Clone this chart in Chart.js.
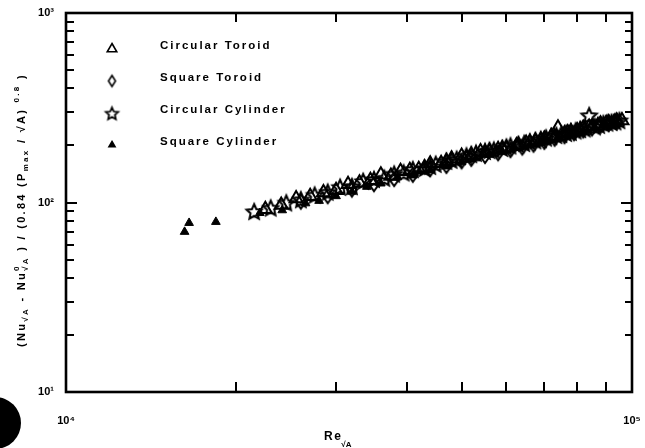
<!DOCTYPE html>
<html><head><meta charset="utf-8">
<script src="https://cdn.jsdelivr.net/npm/chart.js@4.4.1/dist/chart.umd.min.js"></script>
<style>html,body{margin:0;padding:0;background:#fff}</style>
</head><body>
<canvas id="c" width="645" height="448"></canvas>
<script>
// ---------- data ----------
const seriesNames = ['Circular Toroid', 'Square Toroid', 'Circular Cylinder', 'Square Cylinder'];

const circToroidRe = [22500,24000,25500,27000,28500,30000,31500,33000,34500,36000,37500,39000,40500,42000,43000,44000,46000,47000,48000,50000,51000,52000,54000,55000,56000,58000,59000,60000,62500,63000,65000,66000,67500,69000,70000,72000,73000,74000,76000,77000,78000,80000,81000,82000,84000,85000,87000,88000,90000,91000,93000,94000,96000];
const circToroidNu = [92,97,105,108,113,116,125,127,131,140,138,146,148,150,153,160,161,165,170,176,172,178,186,183,187,191,193,194,200,202,206,208,212,214,217,224,222,248,231,234,238,240,242,247,250,252,255,260,262,264,266,270,271];

const sqToroidRe = [26000,29000,32000,35000,38000,41000,44000,47000,50000,52000,55000,58000,61000,64000,67000,70000,73000,76000,79000,82000,85000,88000,91000,94000];
const sqToroidNu = [101,108,117,125,133,140,150,156,165,170,176,182,189,195,202,209,217,224,232,240,246,254,260,265];

const circCylRe = [21500,23000,24500,26000,27500,29000,30500,32000,33500,35000,36500,38000,39500,41000,43000,44000,45000,47000,48000,49000,51000,52000,53000,55000,56000,57000,59000,60000,61000,63000,64500,66000,67500,69000,70500,72000,73500,75000,76500,78000,79500,81000,82500,84000,86000,87500,89000,90500,92000,93500,95000];
const circCylNu = [90,94,100,104,110,114,121,122,130,133,135,142,144,150,152,156,160,166,168,170,177,180,183,187,189,190,194,197,200,203,206,210,213,216,220,224,227,230,233,236,240,244,246,289,252,257,262,264,266,268,272];

const sqCylRe = [16200,16500,18400,22000,24100,26500,28000,30000,32000,34000,36000,38500,41000,44000,47000,50000,53000,56000,59000,62000,66000,70000,74000,78000,82000,86000,90000,93000];
const sqCylNu = [70,78,79,88,91,99,102,108,114,121,126,136,139,148,155,163,171,179,186,194,203,212,222,231,239,247,257,264];

const xTickValues = [10000, 100000];
const xTickLabels = ['10\u2074', '10\u2075'];
const yTickValues = [10, 100, 1000];
const yTickLabels = ['10\u00B9', '10\u00B2', '10\u00B3'];
const xMinor = [20000,30000,40000,50000,60000,70000,80000,90000];
const yMinor = [20,30,40,50,60,70,80,90,200,300,400,500,600,700,800,900];
const yMajorInner = [100];

// ---------- marker images ----------
function makeStar(r, lw) {
  const s = Math.ceil(2 * r + lw * 2 + 2);
  const c = document.createElement('canvas'); c.width = s; c.height = s;
  const g = c.getContext('2d'); g.strokeStyle = '#000'; g.lineWidth = lw; g.lineJoin = 'miter';
  g.beginPath();
  for (let k = 0; k < 10; k++) {
    const rr = (k % 2 === 0) ? r : r * 0.47;
    const a = -Math.PI / 2 + k * Math.PI / 5;
    const px = s / 2 + rr * Math.cos(a), py = s / 2 + 1 + rr * Math.sin(a);
    k === 0 ? g.moveTo(px, py) : g.lineTo(px, py);
  }
  g.closePath(); g.stroke();
  return c;
}
function makeDiamond(w, h, lw) {
  const W = Math.ceil(w + lw * 2 + 2), H = Math.ceil(h + lw * 2 + 2);
  const c = document.createElement('canvas'); c.width = W; c.height = H;
  const g = c.getContext('2d'); g.strokeStyle = '#000'; g.lineWidth = lw;
  g.beginPath();
  g.moveTo(W / 2, H / 2 - h / 2); g.lineTo(W / 2 + w / 2, H / 2);
  g.lineTo(W / 2, H / 2 + h / 2); g.lineTo(W / 2 - w / 2, H / 2); g.closePath(); g.stroke();
  return c;
}
const starPlot = makeStar(8, 2), starLegend = makeStar(6.5, 1.8);
const diaPlot = makeDiamond(10, 14, 2), diaLegend = makeDiamond(7, 11, 1.6);

const toXY = (xs, ys) => xs.map((x, i) => ({ x: x, y: ys[i] }));

const datasets = [
  { label: seriesNames[0], data: toXY(circToroidRe, circToroidNu), pointStyle: 'triangle', pointRadius: 7.5,
    borderColor: '#000', backgroundColor: 'rgba(0,0,0,0)', pointBorderWidth: 2, legendStyle: 'triangle', legendR: 5.5 },
  { label: seriesNames[1], data: toXY(sqToroidRe, sqToroidNu), pointStyle: diaPlot, pointRadius: 7,
    borderColor: '#000', backgroundColor: 'rgba(0,0,0,0)', pointBorderWidth: 2, legendStyle: diaLegend, legendR: 6 },
  { label: seriesNames[2], data: toXY(circCylRe, circCylNu), pointStyle: starPlot, pointRadius: 8,
    borderColor: '#000', backgroundColor: 'rgba(0,0,0,0)', pointBorderWidth: 2, legendStyle: starLegend, legendR: 6 },
  { label: seriesNames[3], data: toXY(sqCylRe, sqCylNu), pointStyle: 'triangle', pointRadius: 5,
    borderColor: '#000', backgroundColor: '#000', pointBorderWidth: 1, legendStyle: 'triangle', legendR: 3.5, legendFill: true }
];
datasets.forEach(d => { d.showLine = false; });

const FONT = '"Liberation Sans", Arial, sans-serif';

// ---------- plugin: frame, inward ticks, titles, legend ----------
const decor = {
  id: 'decor',
  afterDraw(chart) {
    const ctx = chart.ctx, a = chart.chartArea, xs = chart.scales.x, ys = chart.scales.y;
    ctx.save();
    ctx.strokeStyle = '#000';
    // inward ticks
    ctx.lineWidth = 2;
    ctx.beginPath();
    xMinor.forEach(v => {
      const px = Math.round(xs.getPixelForValue(v));
      ctx.moveTo(px, a.bottom); ctx.lineTo(px, a.bottom - 10);
      ctx.moveTo(px, a.top); ctx.lineTo(px, a.top + 9);
    });
    yMinor.forEach(v => {
      const py = Math.round(ys.getPixelForValue(v));
      ctx.moveTo(a.left, py); ctx.lineTo(a.left + 8, py);
      ctx.moveTo(a.right, py); ctx.lineTo(a.right - 7, py);
    });
    yMajorInner.forEach(v => {
      const py = Math.round(ys.getPixelForValue(v));
      ctx.moveTo(a.left, py); ctx.lineTo(a.left + 11, py);
      ctx.moveTo(a.right, py); ctx.lineTo(a.right - 11, py);
    });
    ctx.stroke();
    // frame
    ctx.lineWidth = 2.6;
    ctx.strokeRect(a.left, a.top, a.right - a.left, a.bottom - a.top);

    // legend
    ctx.fillStyle = '#000';
    ctx.font = 'bold 11.5px ' + FONT;
    ctx.letterSpacing = '2px';
    ctx.textBaseline = 'middle';
    ctx.textAlign = 'left';
    const rowsY = [46, 78, 110, 142];
    chart.data.datasets.forEach((d, i) => {
      ctx.strokeStyle = '#000';
      ctx.fillStyle = d.legendFill ? '#000' : 'rgba(0,0,0,0)';
      ctx.lineWidth = 1.6;
      Chart.helpers.drawPoint(ctx, { pointStyle: d.legendStyle, radius: d.legendR, borderWidth: 1.6, rotation: 0 }, 112, rowsY[i] + 3);
      ctx.fillStyle = '#000';
      ctx.fillText(d.label, 160, rowsY[i]);
    });

    // x-axis title: Re with subscript sqrt(A)
    ctx.textBaseline = 'alphabetic';
    ctx.letterSpacing = '1.5px';
    ctx.font = 'bold 12px ' + FONT;
    ctx.fillText('Re', 324, 440);
    const reW = ctx.measureText('Re').width;
    ctx.font = 'bold 8px ' + FONT;
    ctx.letterSpacing = '0px';
    ctx.fillText('\u221AA', 323 + reW, 447);

    // y-axis title, rotated rich text
    const segs = [
      { t: '(Nu', k: 'n' }, { t: '\u221AA', k: 'sub' }, { t: ' - Nu', k: 'n' },
      { t: '0', k: 'sup' }, { t: '\u221AA', k: 'sub', stack: true },
      { t: ' ) / (0.84 (P', k: 'n' }, { t: 'max', k: 'sub' }, { t: ' / \u221AA) ', k: 'n' },
      { t: '0.8', k: 'sup' }, { t: ' )', k: 'n' }
    ];
    const fontFor = k => k === 'n' ? 'bold 11px ' + FONT : 'bold 8px ' + FONT;
    const offFor = k => k === 'sub' ? 3 : (k === 'sup' ? -6 : 0);
    ctx.letterSpacing = '2.3px';
    let total = 0, lastStart = 0, lastW = 0;
    const pos = [];
    segs.forEach(s => {
      ctx.font = fontFor(s.k);
      const w = ctx.measureText(s.t).width;
      if (s.stack) {
        pos.push(lastStart);
        const mw = Math.max(lastW, w);
        total = lastStart + mw; lastW = mw;
      } else {
        pos.push(total); lastStart = total; lastW = w; total += w;
      }
    });
    ctx.translate(25, 210);
    ctx.rotate(-Math.PI / 2);
    segs.forEach((s, i) => {
      ctx.font = fontFor(s.k);
      ctx.fillText(s.t, pos[i] - total / 2, offFor(s.k));
    });
    ctx.restore();

    // scanning hole-punch blob at lower left
    ctx.save();
    ctx.fillStyle = '#000';
    ctx.beginPath();
    ctx.ellipse(-5, 423, 26, 26, 0, 0, Math.PI * 2);
    ctx.fill();
    ctx.restore();
  }
};

new Chart(document.getElementById('c'), {
  type: 'scatter',
  data: { datasets: datasets },
  options: {
    responsive: false,
    animation: false,
    devicePixelRatio: 1,
    layout: { padding: { left: 0, top: 13, right: 13, bottom: 0 } },
    plugins: { legend: { display: false }, tooltip: { enabled: false } },
    elements: { point: { hoverRadius: 6 } },
    scales: {
      x: {
        type: 'logarithmic', min: 10000, max: 100000,
        grid: { display: false, drawTicks: false },
        border: { display: false },
        afterBuildTicks: s => { s.ticks = xTickValues.map(v => ({ value: v, major: true })); },
        afterFit: s => { s.height = 56; s.paddingLeft = 0; s.paddingRight = 0; },
        ticks: {
          autoSkip: false, maxRotation: 0, padding: 22, color: '#000',
          font: { family: FONT, size: 11, weight: 'bold' },
          callback: v => xTickLabels[xTickValues.indexOf(v)]
        }
      },
      y: {
        type: 'logarithmic', min: 10, max: 1000,
        grid: { display: false, drawTicks: false },
        border: { display: false },
        afterBuildTicks: s => { s.ticks = yTickValues.map(v => ({ value: v, major: true })); },
        afterFit: s => { s.width = 66; s.paddingTop = 0; s.paddingBottom = 0; },
        ticks: {
          autoSkip: false, padding: 12, color: '#000',
          font: { family: FONT, size: 11, weight: 'bold' },
          callback: v => yTickLabels[yTickValues.indexOf(v)]
        }
      }
    }
  },
  plugins: [decor]
});
</script>
</body></html>
